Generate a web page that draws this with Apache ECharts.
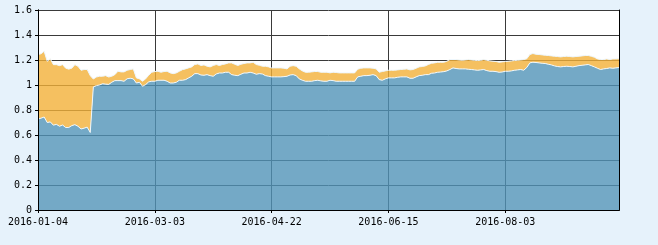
<!DOCTYPE html>
<html>
<head>
<meta charset="utf-8">
<script src="https://cdn.jsdelivr.net/npm/echarts@6/dist/echarts.min.js"></script>
<style>
html,body{margin:0;padding:0;background:#e6f2fb;}
#c{width:658px;height:245px;}
</style>
</head>
<body>
<div id="c"></div>
<script>
const dates = [
"2016-01-04","2016-01-05","2016-01-06","2016-01-07","2016-01-08","2016-01-11","2016-01-12","2016-01-13","2016-01-14","2016-01-15",
"2016-01-18","2016-01-19","2016-01-20","2016-01-21","2016-01-22","2016-01-25","2016-01-26","2016-01-27","2016-01-28","2016-01-29",
"2016-02-01","2016-02-02","2016-02-03","2016-02-04","2016-02-05","2016-02-15","2016-02-16","2016-02-17","2016-02-18","2016-02-19",
"2016-02-22","2016-02-23","2016-02-24","2016-02-25","2016-02-26","2016-02-29","2016-03-01","2016-03-02","2016-03-03",
"2016-03-04","2016-03-05","2016-03-07","2016-03-08","2016-03-09","2016-03-10","2016-03-11","2016-03-12","2016-03-14","2016-03-15",
"2016-03-16","2016-03-17","2016-03-18","2016-03-21","2016-03-22","2016-03-23","2016-03-24","2016-03-25","2016-03-28","2016-03-29",
"2016-03-30","2016-03-31","2016-04-01","2016-04-04","2016-04-05","2016-04-06","2016-04-07","2016-04-08","2016-04-11","2016-04-12",
"2016-04-13","2016-04-14","2016-04-15","2016-04-18","2016-04-19","2016-04-20","2016-04-21","2016-04-22",
"2016-04-25","2016-04-26","2016-04-27","2016-04-28","2016-04-29","2016-05-02","2016-05-03","2016-05-04","2016-05-05","2016-05-06",
"2016-05-09","2016-05-10","2016-05-11","2016-05-12","2016-05-13","2016-05-16","2016-05-17","2016-05-18","2016-05-19","2016-05-20",
"2016-05-23","2016-05-24","2016-05-25","2016-05-26","2016-05-27","2016-05-30","2016-05-31","2016-06-01","2016-06-02","2016-06-03",
"2016-06-06","2016-06-07","2016-06-08","2016-06-09","2016-06-10","2016-06-13","2016-06-14","2016-06-15",
"2016-06-16","2016-06-17","2016-06-18","2016-06-20","2016-06-21","2016-06-22","2016-06-23","2016-06-24","2016-06-25","2016-06-27",
"2016-06-28","2016-06-29","2016-06-30","2016-07-01","2016-07-02","2016-07-04","2016-07-05","2016-07-06","2016-07-07","2016-07-08",
"2016-07-11","2016-07-12","2016-07-13","2016-07-14","2016-07-15","2016-07-18","2016-07-19","2016-07-20","2016-07-21","2016-07-22",
"2016-07-25","2016-07-26","2016-07-27","2016-07-28","2016-07-29","2016-08-01","2016-08-02","2016-08-03",
"2016-08-04","2016-08-05","2016-08-08","2016-08-09","2016-08-10","2016-08-11","2016-08-12","2016-08-15","2016-08-16","2016-08-17",
"2016-08-18","2016-08-19","2016-08-22","2016-08-23","2016-08-24","2016-08-25","2016-08-26","2016-08-29","2016-08-30","2016-08-31",
"2016-09-01","2016-09-02","2016-09-05","2016-09-06","2016-09-07","2016-09-08","2016-09-09","2016-09-12","2016-09-13","2016-09-14",
"2016-09-15","2016-09-16","2016-09-19","2016-09-20","2016-09-21","2016-09-22","2016-09-23"
];

const blueValues = [
0.728,0.735,0.744,0.700,0.705,0.679,0.685,0.670,0.680,0.660,
0.660,0.675,0.683,0.670,0.648,0.655,0.663,0.620,0.985,0.995,
1.000,1.010,1.007,1.005,1.022,1.035,1.035,1.035,1.030,1.050,
1.054,1.049,1.016,1.022,0.990,1.003,1.025,1.030,1.030,1.038,
1.038,1.038,1.030,1.016,1.016,1.022,1.038,1.038,1.043,1.057,
1.070,1.091,1.091,1.080,1.078,1.083,1.075,1.070,1.088,1.096,
1.096,1.102,1.102,1.083,1.078,1.075,1.086,1.096,1.096,1.102,
1.096,1.086,1.091,1.088,1.075,1.070,1.065,1.065,1.065,1.065,
1.067,1.070,1.080,1.083,1.075,1.049,1.038,1.030,1.030,1.030,
1.035,1.038,1.033,1.030,1.030,1.038,1.035,1.030,1.030,1.030,
1.030,1.030,1.030,1.030,1.065,1.070,1.075,1.075,1.078,1.083,
1.075,1.043,1.038,1.049,1.057,1.057,1.057,1.062,1.065,1.065,
1.065,1.054,1.054,1.065,1.075,1.078,1.083,1.083,1.094,1.096,
1.102,1.104,1.107,1.113,1.124,1.137,1.132,1.129,1.129,1.129,
1.126,1.124,1.121,1.118,1.121,1.124,1.115,1.110,1.110,1.107,
1.102,1.104,1.110,1.110,1.113,1.118,1.121,1.124,1.118,1.140,
1.177,1.182,1.180,1.177,1.174,1.172,1.166,1.161,1.153,1.148,
1.145,1.148,1.150,1.148,1.145,1.150,1.155,1.158,1.161,1.164,
1.155,1.145,1.134,1.124,1.129,1.132,1.137,1.134,1.137,1.140
];

const orangeValues = [
0.516,0.515,0.526,0.490,0.505,0.484,0.478,0.485,0.483,0.475,
0.467,0.460,0.480,0.480,0.470,0.469,0.461,0.455,0.063,0.069,
0.070,0.060,0.068,0.059,0.048,0.048,0.075,0.070,0.075,0.068,
0.070,0.080,0.041,0.027,0.040,0.046,0.053,0.072,0.078,0.072,
0.064,0.070,0.080,0.081,0.075,0.075,0.072,0.085,0.086,0.080,
0.075,0.073,0.078,0.076,0.083,0.067,0.070,0.086,0.076,0.060,
0.068,0.067,0.075,0.094,0.088,0.081,0.080,0.076,0.081,0.075,
0.086,0.078,0.067,0.062,0.075,0.075,0.072,0.072,0.072,0.072,
0.067,0.059,0.070,0.072,0.075,0.080,0.075,0.072,0.072,0.075,
0.073,0.070,0.069,0.072,0.072,0.059,0.067,0.070,0.067,0.067,
0.067,0.067,0.067,0.067,0.061,0.064,0.062,0.062,0.059,0.051,
0.054,0.059,0.070,0.064,0.061,0.061,0.061,0.059,0.059,0.061,
0.064,0.067,0.070,0.069,0.070,0.070,0.070,0.081,0.080,0.081,
0.080,0.078,0.075,0.077,0.080,0.067,0.072,0.072,0.069,0.072,
0.078,0.077,0.077,0.078,0.077,0.080,0.083,0.083,0.080,0.081,
0.080,0.081,0.078,0.080,0.080,0.078,0.077,0.077,0.086,0.070,
0.067,0.070,0.066,0.067,0.067,0.066,0.070,0.072,0.077,0.080,
0.080,0.080,0.080,0.080,0.080,0.078,0.075,0.075,0.075,0.072,
0.075,0.077,0.075,0.080,0.075,0.077,0.067,0.075,0.072,0.070
];

const yMin = 0, yMax = 1.6, yStep = 0.2;

const chart = echarts.init(document.getElementById('c'), null, {renderer: 'canvas'});
const font = {fontFamily: 'DejaVu Sans Mono', fontSize: 10, color: '#000'};
const borderLine = {show: true, lineStyle: {color: '#000', width: 1}};
const hidden = {axisTick: {show: false}, axisLabel: {show: false}, splitLine: {show: false}};

chart.setOption({
  animation: false,
  backgroundColor: '#e6f2fb',
  grid: {left: 38, right: 39, top: 10, bottom: 35, show: true, backgroundColor: '#fff', borderWidth: 0, outerBoundsMode: 'none'},
  xAxis: [
    {
      type: 'category', data: dates, boundaryGap: false, position: 'bottom',
      axisLine: borderLine,
      axisTick: {show: true, interval: 37, length: 3, lineStyle: {color: '#000'}},
      axisLabel: Object.assign({interval: 37, margin: 7}, font),
      splitLine: {show: true, interval: 37, lineStyle: {color: '#3a3a3a', width: 1}}
    },
    Object.assign({type: 'category', data: dates, boundaryGap: false, position: 'bottom', z: 10, axisLine: borderLine}, hidden),
    Object.assign({type: 'category', data: dates, boundaryGap: false, position: 'top', z: 10, axisLine: borderLine}, hidden)
  ],
  yAxis: [
    {
      type: 'value', min: yMin, max: yMax, interval: yStep, position: 'left',
      axisLine: borderLine,
      axisTick: {show: true, length: 3, lineStyle: {color: '#000'}},
      axisLabel: Object.assign({margin: 6}, font),
      splitLine: {show: true, lineStyle: {color: '#3a3a3a', width: 1}}
    },
    Object.assign({type: 'value', min: yMin, max: yMax, interval: yStep, position: 'left', z: 10, axisLine: borderLine}, hidden),
    Object.assign({type: 'value', min: yMin, max: yMax, interval: yStep, position: 'right', z: 10, axisLine: borderLine}, hidden)
  ],
  series: [
    {
      name: 'A', type: 'line', stack: 'total', data: blueValues, symbol: 'none',
      xAxisIndex: 0, yAxisIndex: 0,
      lineStyle: {color: '#eef7fd', width: 1},
      areaStyle: {color: '#5194b8', opacity: 0.8}
    },
    {
      name: 'B', type: 'line', stack: 'total', data: orangeValues, symbol: 'none',
      xAxisIndex: 0, yAxisIndex: 0,
      lineStyle: {color: '#eef7fd', width: 1},
      areaStyle: {color: '#f2b038', opacity: 0.8}
    }
  ]
});
</script>
</body>
</html>
